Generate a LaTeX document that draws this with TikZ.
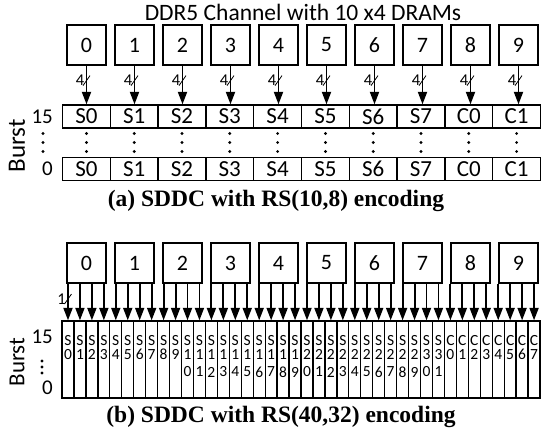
\documentclass[tikz,border=0pt]{standalone}
\usepackage{fontspec}
\setmainfont{Carlito}
\newfontfamily\capfont{Liberation Serif}
\usetikzlibrary{arrows.meta}
\begin{document}
\begin{tikzpicture}[x=1pt,y=-1pt,
  dram/.style={draw,line width=1.2pt,minimum width=39pt,minimum height=40pt,inner sep=0pt,font=\fontsize{22}{22}\selectfont},
  cellA/.style={draw,line width=1.3pt,minimum width=47.8pt,minimum height=23pt,inner sep=0pt,font=\fontsize{23}{23}\selectfont},
  cellB/.style={draw,line width=1.3pt,minimum width=11.95pt,minimum height=77pt,inner sep=0pt},
  ctext/.style={inner sep=0pt,font=\fontsize{15.5}{15.5}\selectfont},
  bus/.style={line width=1.9pt,-{Triangle[length=12.5pt,width=9pt]}},
  lbl/.style={inner sep=0pt,font=\fontsize{21}{21}\selectfont},
  small/.style={inner sep=0pt,font=\fontsize{16.5}{16.5}\selectfont},
  captext/.style={inner sep=0pt,font=\capfont\bfseries\fontsize{23.5}{23.5}\selectfont},
  dotc/.style={fill,circle,inner sep=0pt,minimum size=3.2pt},
]
\useasboundingbox (0,0) rectangle (541,433);
% title
\node[inner sep=0pt,font=\fontsize{23.5}{23.5}\selectfont] (title) at (303,12) {DDR5 Channel with 10 x4 DRAMs};
% ---------- (a) ----------
\foreach \j in {0,...,9} {
  \node[dram] (A\j) at (86.5+48*\j,45) {\j};
}
\foreach \j/\t in {0/S0,1/S1,2/S2,3/S3,4/S4,5/S5,6/S6,7/S7,8/C0,9/C1} {
  \node[cellA] (T\j) at (86.4+47.8*\j,116.5) {\t};
  \node[cellA] (U\j) at (86.4+47.8*\j,169) {\t};
  \draw[bus] (A\j.south) -- (A\j.south |- T\j.north);
  \coordinate (m\j) at ([yshift=-15pt]A\j.south);
  \draw[line width=0.8pt] ([xshift=-3.5pt,yshift=-5pt]m\j) -- ([xshift=3.5pt,yshift=5pt]m\j);
  \node[small,anchor=east] (n\j) at ([xshift=-2pt]m\j) {4};
  \node[dotc] (da\j) at (86.4+47.8*\j,133.5) {};
  \node[dotc] (db\j) at (86.4+47.8*\j,142.5) {};
  \node[dotc] (dc\j) at (86.4+47.8*\j,151.5) {};
}
\node[lbl,anchor=east] (a15) at (53,117) {15};
\node[lbl,anchor=east] (a0) at (53,169) {0};
\node[dotc] (la1) at (43,133.5) {};
\node[dotc] (la2) at (43,142.5) {};
\node[dotc] (la3) at (43,151.5) {};
\node[inner sep=0pt,font=\fontsize{25}{25}\selectfont,rotate=90] (burstA) at (17,146) {Burst};
\node[captext] (capA) at (276,201) {(a) SDDC with RS(10,8) encoding};
% ---------- (b) ----------
\foreach \j in {0,...,9} {
  \node[dram] (B\j) at (86.5+48*\j,263) {\j};
}
\foreach \k in {0,...,39} {
  \node[cellB] (C\k) at (68+11.95*\k,359.5) {};
  \pgfmathtruncatemacro{\bj}{int(\k/4)}
  \draw[bus] (C\k.north |- B\bj.south) -- (C\k.north);
}
\foreach \k in {0,...,31} {
  \node[ctext] (s\k) at (68+11.95*\k,340.5) {S};
  \ifnum\k<10
    \node[ctext] (p\k) at (68+11.95*\k,354.5) {\k};
  \else
    \pgfmathtruncatemacro{\ta}{int(\k/10)}
    \pgfmathtruncatemacro{\tb}{int(\k-10*int(\k/10))}
    \node[ctext] (p\k) at (68+11.95*\k,354.5) {\ta};
    \node[ctext] (q\k) at (68+11.95*\k,372) {\tb};
  \fi
}
\foreach \c in {0,...,7} {
  \pgfmathtruncatemacro{\kk}{32+\c}
  \node[ctext] (cs\c) at (68+11.95*\kk,340.5) {C};
  \node[ctext] (cp\c) at (68+11.95*\kk,354.5) {\c};
}
\coordinate (mb) at (68,299);
\draw[line width=0.8pt] ([xshift=-3.5pt,yshift=-5pt]mb) -- ([xshift=3.5pt,yshift=5pt]mb);
\node[small,anchor=east] (n1) at ([xshift=-2pt]mb) {1};
\node[lbl,anchor=east] (b15) at (53,337) {15};
\node[lbl,anchor=east] (b0) at (53,388) {0};
\node[dotc] (lb1) at (42,361) {};
\node[dotc] (lb2) at (42,367) {};
\node[dotc] (lb3) at (42,373) {};
\node[inner sep=0pt,font=\fontsize{23}{23}\selectfont,rotate=90] (burstB) at (17,362) {Burst};
\node[captext] (capB) at (281,417) {(b) SDDC with RS(40,32) encoding};
\end{tikzpicture}
\end{document}
